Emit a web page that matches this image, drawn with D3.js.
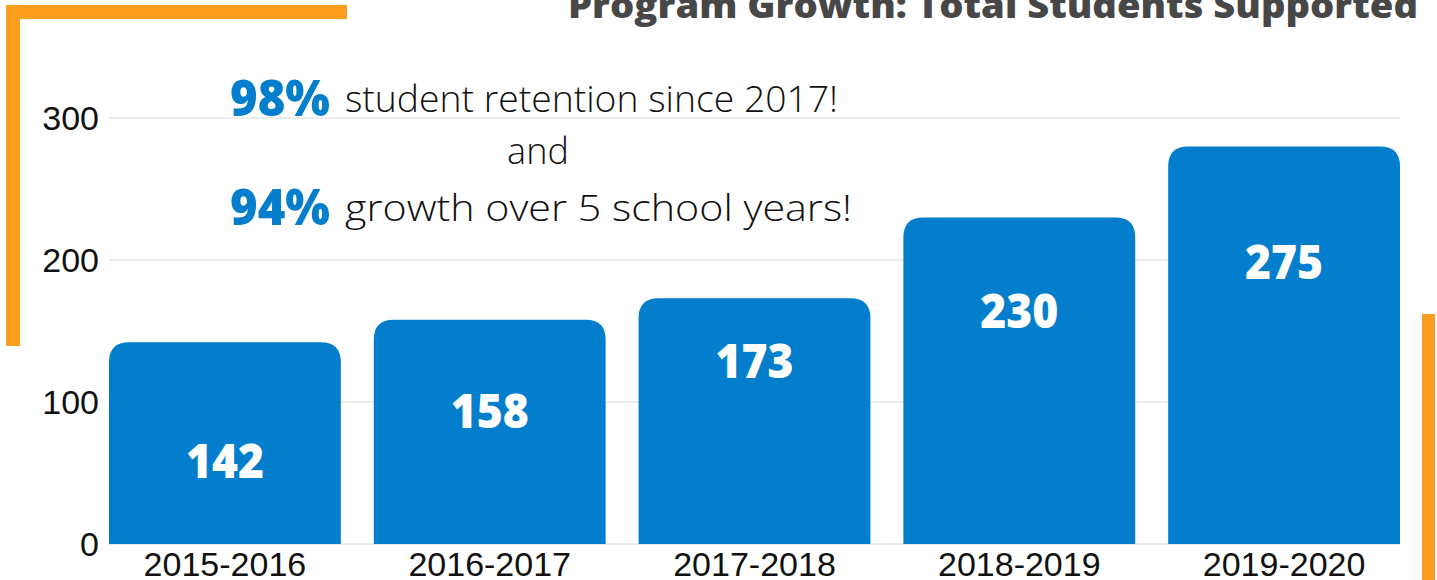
<!DOCTYPE html>
<html><head><meta charset="utf-8">
<script src="https://cdn.jsdelivr.net/npm/d3@7"></script>
<style>html,body{margin:0;padding:0;background:#fff;overflow:hidden}</style>
</head><body>
<svg id="c" width="1437" height="580"></svg>
<script>
const categories = ["2015-2016","2016-2017","2017-2018","2018-2019","2019-2020"];
const barValues = [142,158,173,230,280];
const valueLabels = ["142","158","173","230","275"];
const yTicks = [0,100,200,300];
const title = "Program Growth: Total Students Supported";
const noteLines = [
  {pct:"98%", text:"student retention since 2017!"},
  {pct:"", text:"and"},
  {pct:"94%", text:"growth over 5 school years!"}
];

const svg = d3.select("#c");
const BLUE = "#027ecd", ORANGE = "#fb9d1f";

const x = d3.scaleBand().domain(categories).range([109,1400]).paddingInner(0.1245).paddingOuter(0);
const y = d3.scaleLinear().domain([0,300]).range([544,118]);

// orange decorations
svg.append("rect").attr("x",6).attr("y",5).attr("width",341).attr("height",14).attr("fill",ORANGE);
svg.append("rect").attr("x",6).attr("y",5).attr("width",14).attr("height",341).attr("fill",ORANGE);
svg.append("rect").attr("x",1422).attr("y",314).attr("width",13).attr("height",266).attr("fill",ORANGE);

// title
svg.append("text").attr("x",1418).attr("y",18).attr("text-anchor","end")
  .attr("font-family","'Open Sans'").attr("font-weight",800).attr("font-size",36)
  .attr("fill","#474747").attr("textLength",850).attr("lengthAdjust","spacingAndGlyphs").text(title);

// gridlines
svg.append("g").selectAll("line").data(yTicks).join("line")
  .attr("x1",109).attr("x2",1400).attr("y1",d=>y(d)).attr("y2",d=>y(d))
  .attr("stroke","#d9d9d9").attr("stroke-width",1.2);

// y axis labels
const yAxis = svg.append("g").attr("transform","translate(109,0)")
  .call(d3.axisLeft(y).tickValues(yTicks).tickSize(0).tickPadding(10));
yAxis.select(".domain").remove();
yAxis.selectAll("text").attr("font-family","'Liberation Sans', Arial").attr("font-size",34).attr("fill","#111").attr("dy","0.35em");

// x axis labels
const xAxis = svg.append("g").attr("transform","translate(0,544)")
  .call(d3.axisBottom(x).tickSize(0).tickPadding(8));
xAxis.select(".domain").remove();
xAxis.selectAll("text").attr("font-family","'Liberation Sans', Arial").attr("font-size",34).attr("fill","#111").attr("dy","0.71em");

// bars with rounded top corners
function topRounded(x0, y0, w, h, r){
  r = Math.min(r, w/2, h);
  return `M${x0},${y0+h}V${y0+r}Q${x0},${y0} ${x0+r},${y0}H${x0+w-r}Q${x0+w},${y0} ${x0+w},${y0+r}V${y0+h}Z`;
}
svg.append("g").selectAll("path").data(barValues).join("path")
  .attr("d",(d,i)=>topRounded(x(categories[i]), y(d), x.bandwidth(), y(0)-y(d), 20))
  .attr("fill",BLUE);

// value labels
svg.append("g").selectAll("text").data(valueLabels).join("text")
  .attr("x",(d,i)=>x(categories[i])+x.bandwidth()/2)
  .attr("y",(d,i)=>y(59+35*i))
  .attr("dy","0.36em").attr("text-anchor","middle")
  .attr("font-family","'Open Sans'").attr("font-weight",800).attr("font-size",48)
  .attr("fill","#fff").attr("textLength",78).attr("lengthAdjust","spacingAndGlyphs").text(d=>d);

// annotation
const noteY = [116, 164, 225];
const g = svg.append("g");
noteLines.forEach((l,i)=>{
  if(l.pct){
    g.append("text").attr("x",230).attr("y",noteY[i])
      .attr("font-family","'Open Sans'").attr("font-weight",800).attr("font-size",50)
      .attr("fill",BLUE).attr("textLength",100).attr("lengthAdjust","spacingAndGlyphs").text(l.pct);
    g.append("text").attr("x",345).attr("y",noteY[i]-4)
      .attr("font-family","'Open Sans'").attr("font-weight",300).attr("font-size",36)
      .attr("fill","#111").attr("textLength", i===0?493:507).attr("lengthAdjust","spacingAndGlyphs").text(l.text);
  } else {
    g.append("text").attr("x",538).attr("y",noteY[i]).attr("text-anchor","middle")
      .attr("font-family","'Open Sans'").attr("font-weight",300).attr("font-size",36)
      .attr("fill","#111").text(l.text);
  }
});
</script>
</body></html>
